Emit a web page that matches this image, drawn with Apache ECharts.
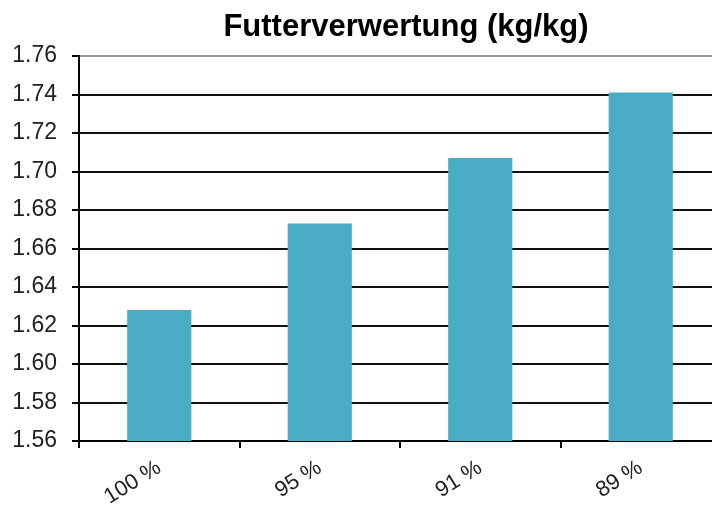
<!DOCTYPE html>
<html>
<head>
<meta charset="utf-8">
<script src="https://cdn.jsdelivr.net/npm/echarts@6/dist/echarts.min.js"></script>
<style>
  html, body { margin: 0; padding: 0; background: #fff; }
  #chart { width: 712px; height: 506px; }
</style>
</head>
<body>
<div id="chart"></div>
<script>
// Feed conversion by feeding level
const titleText = 'Futterverwertung (kg/kg)';
const categories = ['100 %', '95 %', '91 %', '89 %'];
const values = [1.628, 1.673, 1.707, 1.741];
const yMin = 1.56;
const yMax = 1.76;
const yStep = 0.02;

// Gridline colours: all black except the top border line, which is grey
const gridColors = [];
for (let i = 0; i <= Math.round((yMax - yMin) / yStep); i++) gridColors.push('#111');
gridColors[gridColors.length - 1] = '#9a9a9a';

const chart = echarts.init(document.getElementById('chart'), null, { renderer: 'canvas' });
chart.setOption({
  animation: false,
  backgroundColor: '#fff',
  title: {
    text: titleText,
    left: 401,
    textAlign: 'center',
    top: 7,
    textStyle: { fontFamily: 'Liberation Sans, Arial, sans-serif', fontWeight: 'bold', fontSize: 31, color: '#000' }
  },
  // plot area runs slightly past the right edge of the canvas
  grid: {
    left: 79, width: 642, top: 56, bottom: 65,
    containLabel: false,
    outerBoundsMode: 'none'
  },
  xAxis: {
    type: 'category',
    data: categories,
    boundaryGap: true,
    axisLine: { show: true, lineStyle: { color: '#000', width: 2 } },
    axisTick: { show: true, alignWithLabel: false, length: 7, lineStyle: { color: '#000', width: 2 } },
    axisLabel: {
      rotate: 32,
      margin: 25,
      fontFamily: 'Liberation Sans, Arial, sans-serif',
      fontSize: 22,
      color: '#222'
    },
    splitLine: { show: false }
  },
  yAxis: {
    type: 'value',
    min: yMin,
    max: yMax,
    interval: yStep,
    axisLine: { show: true, lineStyle: { color: '#000', width: 2 } },
    axisTick: { show: true, length: 7, inside: false, lineStyle: { color: '#000', width: 2 } },
    axisLabel: {
      margin: 22,
      fontFamily: 'Liberation Sans, Arial, sans-serif',
      fontSize: 23,
      color: '#222',
      formatter: v => v.toFixed(2)
    },
    splitLine: { show: true, lineStyle: { color: gridColors, width: 2 } }
  },
  series: [{
    type: 'bar',
    data: values,
    barWidth: '40%',
    itemStyle: { color: '#4BACC6' },
    z: 3
  }]
});
</script>
</body>
</html>
